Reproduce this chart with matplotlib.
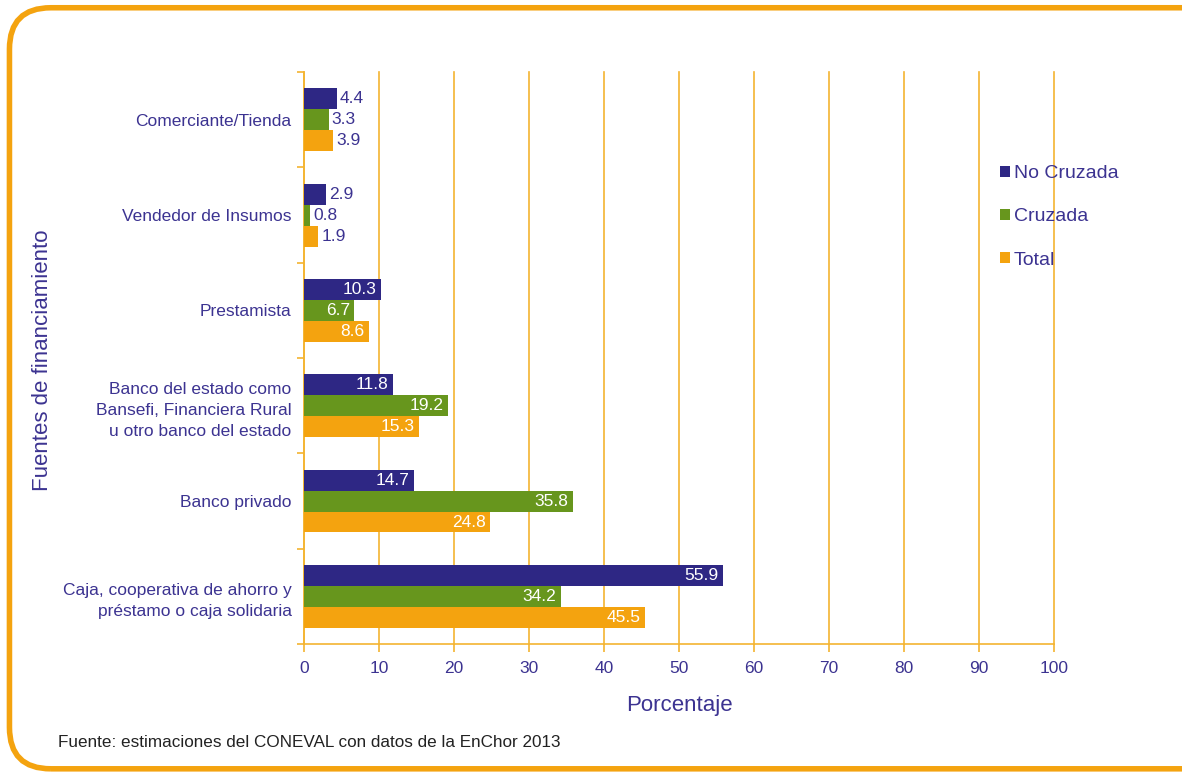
import matplotlib

matplotlib.use("Agg")
import matplotlib.pyplot as plt
import numpy as np
from matplotlib.patches import FancyBboxPatch

plt.rcParams["font.family"] = ["Liberation Sans", "DejaVu Sans"]

CATEGORIES = [
    "Comerciante/Tienda",
    "Vendedor de Insumos",
    "Prestamista",
    "Banco del estado como\nBansefi, Financiera Rural\nu otro banco del estado",
    "Banco privado",
    "Caja, cooperativa de ahorro y\npréstamo o caja solidaria",
]
SERIES = ["No Cruzada", "Cruzada", "Total"]
NO_CRUZADA = [4.4, 2.9, 10.3, 11.8, 14.7, 55.9]
CRUZADA = [3.3, 0.8, 6.7, 19.2, 35.8, 34.2]
TOTAL = [3.9, 1.9, 8.6, 15.3, 24.8, 45.5]

NAVY = "#2E2784"
GREEN = "#67961D"
ORANGE = "#F4A30F"
TEXT = "#3C3391"
GRID = "#F4B431"

fig = plt.figure(figsize=(11.82, 7.75), dpi=100)
ax = fig.add_axes([0.2572, 0.169, 0.6345, 0.738])

# rounded orange frame around the whole chart
frame = FancyBboxPatch((0.008, 0.008), 1.2, 0.982, boxstyle="round,pad=0,rounding_size=0.035",
                       transform=fig.transFigure, fill=False, edgecolor=ORANGE, linewidth=4,
                       mutation_aspect=1182 / 775, zorder=0)
fig.patches.append(frame)

n = len(CATEGORIES)
pos = np.arange(n)
h = 0.22
for i, (vals, col) in enumerate(zip([NO_CRUZADA, CRUZADA, TOTAL], [NAVY, GREEN, ORANGE])):
    y = pos + (i - 1) * h
    ax.barh(y, vals, height=h, color=col, label=SERIES[i], zorder=3)
    for yy, v in zip(y, vals):
        if v >= 6:
            ax.text(v - 0.6, yy, f"{v:.1f}", ha="right", va="center", color="white",
                    fontsize=12.5, zorder=4)
        else:
            ax.text(v + 0.4, yy, f"{v:.1f}", ha="left", va="center", color=TEXT,
                    fontsize=12.5, zorder=4)

ax.set_ylim(n - 0.5, -0.5)
ax.set_xlim(0, 100)
ax.set_xticks(range(0, 101, 10))
ax.set_yticks(pos)
ax.set_yticklabels(CATEGORIES, fontsize=12.5, color=TEXT)
for lbl in ax.get_yticklabels():
    lbl.set_linespacing(1.5)
ax.set_yticks(np.arange(-0.5, n, 1), minor=True)
ax.tick_params(axis="y", which="major", length=0, pad=9)
ax.tick_params(axis="y", which="minor", length=5, color=GRID, width=1.2)
ax.tick_params(axis="x", length=6, color=GRID, width=1.2, labelsize=12.5, labelcolor=TEXT, pad=6)
ax.xaxis.grid(True, color=GRID, linewidth=1.2, zorder=0)
for gl in ax.get_xgridlines():
    gl.set_clip_on(False)
for s in ["top", "right"]:
    ax.spines[s].set_visible(False)
for s in ["left", "bottom"]:
    ax.spines[s].set_color(GRID)
    ax.spines[s].set_linewidth(1.2)
ax.set_xlabel("Porcentaje", fontsize=16, color=TEXT, labelpad=14)
fig.text(0.036, 0.535, "Fuentes de financiamiento", rotation=90, ha="center", va="center",
         fontsize=16, color=TEXT)

ax.legend(loc="upper left", bbox_to_anchor=(0.905, 0.868), frameon=False, fontsize=14,
          labelcolor=TEXT, handlelength=0.5, handleheight=0.5, handletextpad=0.2,
          labelspacing=1.35)

fig.text(0.049, 0.036, "Fuente: estimaciones del CONEVAL con datos de la EnChor 2013",
         fontsize=12.3, color="#222222")

fig.savefig("out.png", dpi=100)
